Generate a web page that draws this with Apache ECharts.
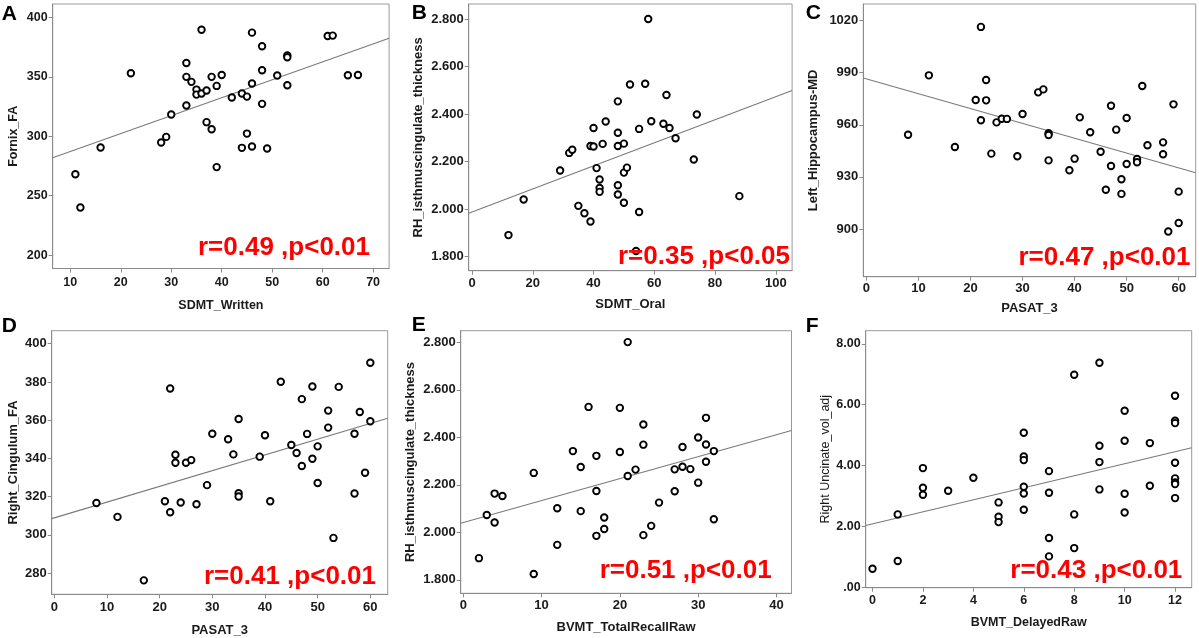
<!DOCTYPE html>
<html>
<head>
<meta charset="utf-8">
<script src="https://cdn.jsdelivr.net/npm/echarts@6/dist/echarts.min.js"></script>
<style>
html,body{margin:0;padding:0;background:#fff;}
#chart{width:1199px;height:638px;}
</style>
</head>
<body>
<div id="chart"></div>
<script>
// ---------- Data ----------
const aX = [11,12,16,22,28,29,30,33,33,33,34,35,35,36,36,37,37,38,38,39,39,40,42,44,44,45,45,46,46,46,48,48,48,49,51,53,53,53,61,62,65,67];
const aY = [268,240,290.5,353,294.7,299.4,318.2,361.6,349.9,325.8,345.7,339.2,335,389.6,335.9,338.4,311.8,349.9,305.9,342.3,274,351.5,332.5,335.9,290.2,333.3,302.2,387.1,344.3,291.3,375.6,355.5,327.2,289.6,351,368,366.4,342.9,384.3,384.6,351.3,351.5];

const bX = [12,17,29,32,33,35,37,39,39,40,40,41,42,42,42,43,44,48,48,48,48,48,50,50,50,51,52,54,55,55,57,58,59,63,64,65,67,73,74,88];
const bY = [1.891,2.041,2.163,2.237,2.250,2.014,1.983,2.266,1.948,2.342,2.264,2.173,2.125,2.089,2.073,2.275,2.369,2.454,2.322,2.266,2.101,2.062,2.276,2.154,2.027,2.175,2.525,1.824,2.338,1.988,2.528,2.801,2.370,2.360,2.481,2.342,2.299,2.209,2.399,2.055];

const cX = [8,12,17,21,22,22,23,23,24,25,26,27,29,30,33,34,35,35,35,39,40,41,43,45,47,47,46,48,49,49,50,50,52,52,53,54,57,57,58,59,60,60];
const cY = [954.3,988.5,947.2,974.3,1016.4,962.6,985.8,974.1,943.4,961.4,963.5,963.4,941.9,966.2,978.7,980.4,955.1,954.1,939.5,933.8,940.5,964.3,955.7,944.5,971.0,936.3,922.6,957.2,928.6,920.2,963.9,937.4,940.3,938.4,982.4,948.2,949.9,943.0,898.5,971.8,921.5,903.4];

const dX = [8,12,17,21,22,22,23,23,24,25,26,27,29,30,33,34,35,35,35,39,40,41,43,45,46,47,47,48,49,49,50,50,52,52,53,54,57,57,58,59,60,60];
const dY = [316.7,309.4,276.2,317.6,376.6,311.8,341.9,337.7,316.9,337.7,339.1,316.0,326.0,352.9,350.0,342.1,360.6,321.8,320.1,340.9,352.1,317.6,380.1,347.0,342.8,371.0,336.0,352.8,377.6,339.8,346.3,327.1,365.0,356.1,298.4,377.4,352.9,321.6,364.3,332.5,390.0,359.4];

const eX = [2,3,4,4,5,9,9,12,12,14,15,15,16,17,17,17,18,18,20,20,21,21,22,23,23,23,24,25,27,27,28,28,29,30,30,31,31,31,32,32];
const eY = [1.891,2.073,2.163,2.041,2.153,2.250,1.824,2.101,1.947,2.342,2.275,2.089,2.528,2.322,2.174,1.985,2.062,2.014,2.524,2.338,2.801,2.237,2.264,2.454,2.369,1.988,2.027,2.125,2.265,2.173,2.359,2.276,2.266,2.399,2.209,2.482,2.370,2.297,2.342,2.055];

const fX = [0,1,1,2,2,2,3,4,5,5,5,6,6,6,6,6,6,7,7,7,7,8,8,8,9,9,9,9,10,10,10,10,11,11,12,12,12,12,12,12,12,12];
const fY = [0.613,2.397,0.865,3.918,3.272,3.042,3.174,3.600,2.791,2.320,2.145,5.078,4.301,4.181,3.305,3.086,2.550,3.819,3.108,1.620,1.018,6.982,2.397,1.291,7.376,4.651,4.115,3.218,5.800,4.815,3.075,2.462,4.739,3.338,6.293,5.472,5.395,4.093,3.579,3.447,3.393,2.933];

// axis ranges [min,max]
const aXRange = [6.51, 73.17],  aYRange = [188.7, 411.2];
const bXRange = [-1.09, 105.36], bYRange = [1.741, 2.864];
const cXRange = [-0.6, 63.27],  cYRange = [872.5, 1029.6];
const dXRange = [-0.49, 63.3],  dYRange = [268.9, 406.8];
const eXRange = [-0.33, 41.92], eYRange = [1.743, 2.849];
const fXRange = [-0.27, 12.66], fYRange = [-0.01, 8.43];

// fit line values at the two ends of the x range
const aFit = [281.8, 382.4];
const bFit = [1.983, 2.500];
const cFit = [987.0, 932.4];
const dFit = [308.5, 361.0];
const eFit = [2.038, 2.429];
const fFit = [2.035, 4.585];

// tick labels
const aXTicks = [10,20,30,40,50,60,70],  aYTicks = [200,250,300,350,400];
const bXTicks = [0,20,40,60,80,100],     bYTicks = [1.8,2.0,2.2,2.4,2.6,2.8];
const cXTicks = [0,10,20,30,40,50,60],   cYTicks = [900,930,960,990,1020];
const dXTicks = [0,10,20,30,40,50,60],   dYTicks = [280,300,320,340,360,380,400];
const eXTicks = [0,10,20,30,40],         eYTicks = [1.8,2.0,2.2,2.4,2.6,2.8];
const fXTicks = [0,2,4,6,8,10,12],       fYTicks = [0,2,4,6,8];

const letters = ['A','B','C','D','E','F'];
const xNames = ['SDMT_Written','SDMT_Oral','PASAT_3','PASAT_3','BVMT_TotalRecallRaw','BVMT_DelayedRaw'];
const yNames = ['Fornix_FA','RH_isthmuscingulate_thickness','Left_Hippocampus-MD','Right_Cingulum_FA','RH_isthmuscingulate_thickness','Right Uncinate_vol_adj'];
const stats = ['r=0.49 ,p<0.01','r=0.35 ,p<0.05','r=0.47 ,p<0.01','r=0.41 ,p<0.01','r=0.51 ,p<0.01','r=0.43 ,p<0.01'];

// ---------- Layout ----------
const FONT = '"Liberation Sans", Arial, Helvetica, sans-serif';
const fmt3 = v => v.toFixed(3);
const fmtF = v => v === 0 ? '.00' : v.toFixed(2);
const fmtInt = v => String(v);

const panels = [
  {x:aX,y:aY,xr:aXRange,yr:aYRange,fit:aFit,xt:aXTicks,yt:aYTicks,yf:fmtInt,
   grid:{left:52.7,top:4,width:336.4,height:264.5}, xGap:31, yGap:33, fs:12.5,
   letter:[1.7,13.3], stat:[370,247.5], xm:8, yBold:true},
  {x:bX,y:bY,xr:bXRange,yr:bYRange,fit:bFit,xt:bXTicks,yt:bYTicks,yf:fmt3,
   grid:{left:468.7,top:4,width:323.4,height:266.7}, xGap:27, yGap:44, fs:13,
   letter:[411.7,12.5], stat:[790,256.7], xm:6, yBold:true},
  {x:cX,y:cY,xr:cXRange,yr:cYRange,fit:cFit,xt:cXTicks,yt:cYTicks,yf:fmtInt,
   grid:{left:863.3,top:4,width:332.4,height:272.7}, xGap:25, yGap:43, fs:13,
   letter:[805.7,12.5], stat:[1190.5,258], xm:5, yBold:true},
  {x:dX,y:dY,xr:dXRange,yr:dYRange,fit:dFit,xt:dXTicks,yt:dYTicks,yf:fmtInt,
   grid:{left:51.7,top:330.7,width:336,height:263.6}, xGap:29.5, yGap:32, fs:13,
   letter:[1.7,325.5], stat:[376,576.7], xm:7, yBold:true},
  {x:eX,y:eY,xr:eXRange,yr:eYRange,fit:eFit,xt:eXTicks,yt:eYTicks,yf:fmt3,
   grid:{left:460.7,top:330.7,width:330.8,height:262.6}, xGap:28, yGap:44, fs:13,
   letter:[411.7,324.5], stat:[771.7,570.5], xm:6, yBold:true},
  {x:fX,y:fY,xr:fXRange,yr:fYRange,fit:fFit,xt:fXTicks,yt:fYTicks,yf:fmtF,
   grid:{left:865.7,top:330.7,width:326,height:257}, xGap:28, yGap:32, fs:12.5,
   letter:[805.7,325.5], stat:[1182.3,571], xm:6, yBold:false}
];

const grids = [], xAxes = [], yAxes = [], series = [], graphics = [];
const axisColor = '#8a8a8a';
panels.forEach((p, i) => {
  grids.push(Object.assign({show:true, borderColor:'#9a9a9a', borderWidth:1, backgroundColor:'#fff', containLabel:false}, p.grid));
  xAxes.push({
    type:'value', gridIndex:i, min:p.xr[0], max:p.xr[1],
    name:xNames[i], nameLocation:'middle', nameGap:p.xGap,
    nameTextStyle:{fontFamily:FONT, fontWeight:'bold', fontSize:p.fs, color:'#1a1a1a'},
    axisLine:{show:true, onZero:false, lineStyle:{color:axisColor, width:1}},
    axisTick:{show:true, length:4, lineStyle:{color:axisColor}, customValues:p.xt},
    axisLabel:{customValues:p.xt, formatter:fmtInt, margin:p.xm, fontFamily:FONT, fontWeight:'bold', fontSize:p.fs, color:'#1a1a1a'},
    splitLine:{show:false}
  });
  yAxes.push({
    type:'value', gridIndex:i, min:p.yr[0], max:p.yr[1],
    name:yNames[i], nameLocation:'middle', nameGap:p.yGap, nameRotate:90,
    nameTextStyle:{fontFamily:FONT, fontWeight:p.yBold?'bold':'normal', fontSize:p.fs, color:'#1a1a1a'},
    axisLine:{show:true, onZero:false, lineStyle:{color:axisColor, width:1}},
    axisTick:{show:true, length:4, lineStyle:{color:axisColor}, customValues:p.yt},
    axisLabel:{customValues:p.yt, formatter:p.yf, margin:5, fontFamily:FONT, fontWeight:'bold', fontSize:p.fs, color:'#1a1a1a'},
    splitLine:{show:false}
  });
  series.push({
    type:'line', xAxisIndex:i, yAxisIndex:i, silent:true, showSymbol:false, symbol:'none',
    data:[[p.xr[0], p.fit[0]],[p.xr[1], p.fit[1]]],
    lineStyle:{color:'#7a7a7a', width:1.1}, z:2, animation:false
  });
  series.push({
    type:'scatter', xAxisIndex:i, yAxisIndex:i,
    data:p.x.map((v, k) => [v, p.y[k]]),
    symbol:'circle', symbolSize:6.5,
    itemStyle:{color:'#fff', borderColor:'#000', borderWidth:1.9, opacity:1},
    z:3, animation:false
  });
  graphics.push({
    type:'text', left:p.letter[0], top:p.letter[1]-10,
    style:{text:letters[i], font:'bold 21px ' + FONT, fill:'#000'}
  });
  graphics.push({
    type:'text', x:p.stat[0], y:p.stat[1], z:10,
    style:{text:stats[i], font:'bold 26px ' + FONT, fill:'#ff0000', align:'right', verticalAlign:'middle'}
  });
});

const chart = echarts.init(document.getElementById('chart'), null, {renderer:'canvas'});
chart.setOption({
  animation:false,
  backgroundColor:'#fff',
  grid:grids, xAxis:xAxes, yAxis:yAxes, series:series, graphic:graphics
});
</script>
</body>
</html>
